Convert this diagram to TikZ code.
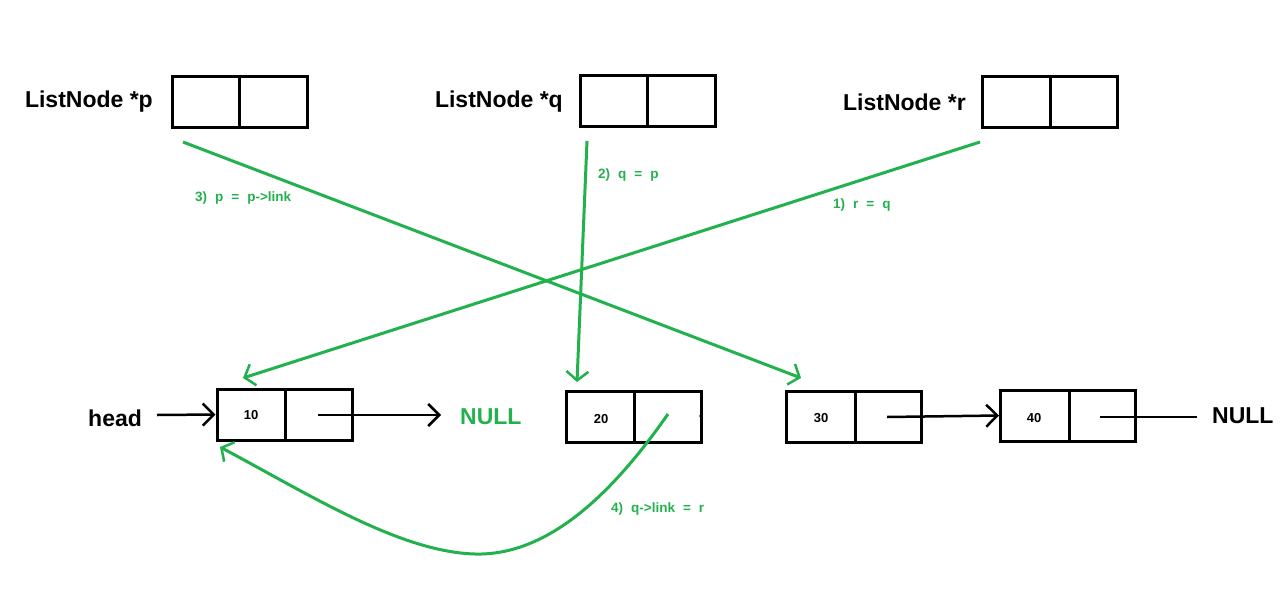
\documentclass[tikz,border=0pt]{standalone}
\usepackage{fontspec}
\setmainfont{Liberation Sans}
\usetikzlibrary{arrows.meta}
\definecolor{pgreen}{RGB}{34,177,76}
\newcommand{\widewords}{\spaceskip=8pt\relax}
\tikzset{
  cellbox/.style={draw, line width=3pt, minimum width=135pt, minimum height=51pt, inner sep=0pt},
  divider/.style={line width=3pt},
  biglabel/.style={font=\bfseries\fontsize{23}{25}\selectfont, inner sep=0pt},
  numlabel/.style={font=\bfseries\fontsize{13}{15}\selectfont, inner sep=0pt},
  steplabel/.style={font=\bfseries\fontsize{13.5}{15}\selectfont, execute at begin node=\widewords, text=pgreen, inner sep=0pt},
  ptr/.style={line width=2.5pt, -{Straight Barb[length=11pt,width=22pt,line width=2.5pt]}},
  gptr/.style={draw=pgreen, line width=3pt, -{Straight Barb[length=9pt,width=22pt,line width=2.5pt]}},
}
\begin{document}
\begin{tikzpicture}[x=1pt,y=-1pt]
\useasboundingbox[fill=white] (0,0) rectangle (1280,589);
% top variable boxes
\node[cellbox] (pbox) at (239.5,101.5) {};
\node[cellbox] (qbox) at (647.5,101) {};
\node[cellbox] (rbox) at (1050,102) {};
\foreach \b in {pbox,qbox,rbox} \draw[divider] (\b.north) -- (\b.south);
\node[biglabel, anchor=east] (pl) at (153,102) {ListNode *p};
\node[biglabel, anchor=east] (ql) at (563,102) {ListNode *q};
\node[biglabel, anchor=east] (rl) at (966,102) {ListNode *r};
% list nodes
\node[cellbox] (n10) at (284.5,414.5) {};
\node[cellbox] (n20) at (634,416.5) {};
\node[cellbox] (n30) at (853.5,416.5) {};
\node[cellbox] (n40) at (1068,415.5) {};
\draw[divider] (285,389) -- (285,440);
\draw[divider] (634,391) -- (634,442);
\draw[divider] (855,391) -- (855,442);
\draw[divider] (1069,390) -- (1069,441);
\node[numlabel] (t10) at (251,415) {10};
\node[numlabel] (t20) at (601,419) {20};
\node[numlabel] (t30) at (821,418) {30};
\node[numlabel] (t40) at (1034,418) {40};
% head and NULLs
\node[biglabel, anchor=west] (head) at (88,418) {head};
\node[biglabel, anchor=west, text=pgreen] (null1) at (460,417) {NULL};
\node[biglabel, anchor=west] (null2) at (1212,416) {NULL};
\coordinate (hs) at (157,415);
\coordinate (p10) at (318,415);
\coordinate (p10e) at (441,415);
\coordinate (p30) at (887,417);
\coordinate (p40) at (1100,417);
\coordinate (p40e) at (1197,417);
\draw[ptr] (hs) -- (n10.west);
\draw[ptr] (p10) -- (p10e);
\draw[ptr] (p30) -- (n40.west);
\draw[line width=2.5pt] (p40) -- (p40e);
\fill (701,416) circle (1.8pt);
% green arrows
\coordinate (ps) at (183,142);
\coordinate (pe) at (801,378);
\coordinate (qs) at (587,141);
\coordinate (qe) at (577,382);
\coordinate (rs) at (980,142);
\coordinate (re) at (243,378);
\coordinate (cs) at (668,414);
\coordinate (cm) at (475,554);
\coordinate (ce) at (220,447);
\draw[gptr] (cs) .. controls (615,490) and (550,556) .. (cm) .. controls (400,552) and (310,495) .. (ce);
\draw[gptr] (ps) -- (pe);
\draw[gptr] (qs) -- (qe);
\draw[gptr] (rs) -- (re);
\node[steplabel, anchor=west] (s3) at (195,198) {3) p = p->link};
\node[steplabel, anchor=west] (s2) at (598,175) {2) q = p};
\node[steplabel, anchor=west] (s1) at (833,205) {1) r = q};
\node[steplabel, anchor=west] (s4) at (611,509) {4) q->link = r};
\end{tikzpicture}
\end{document}
